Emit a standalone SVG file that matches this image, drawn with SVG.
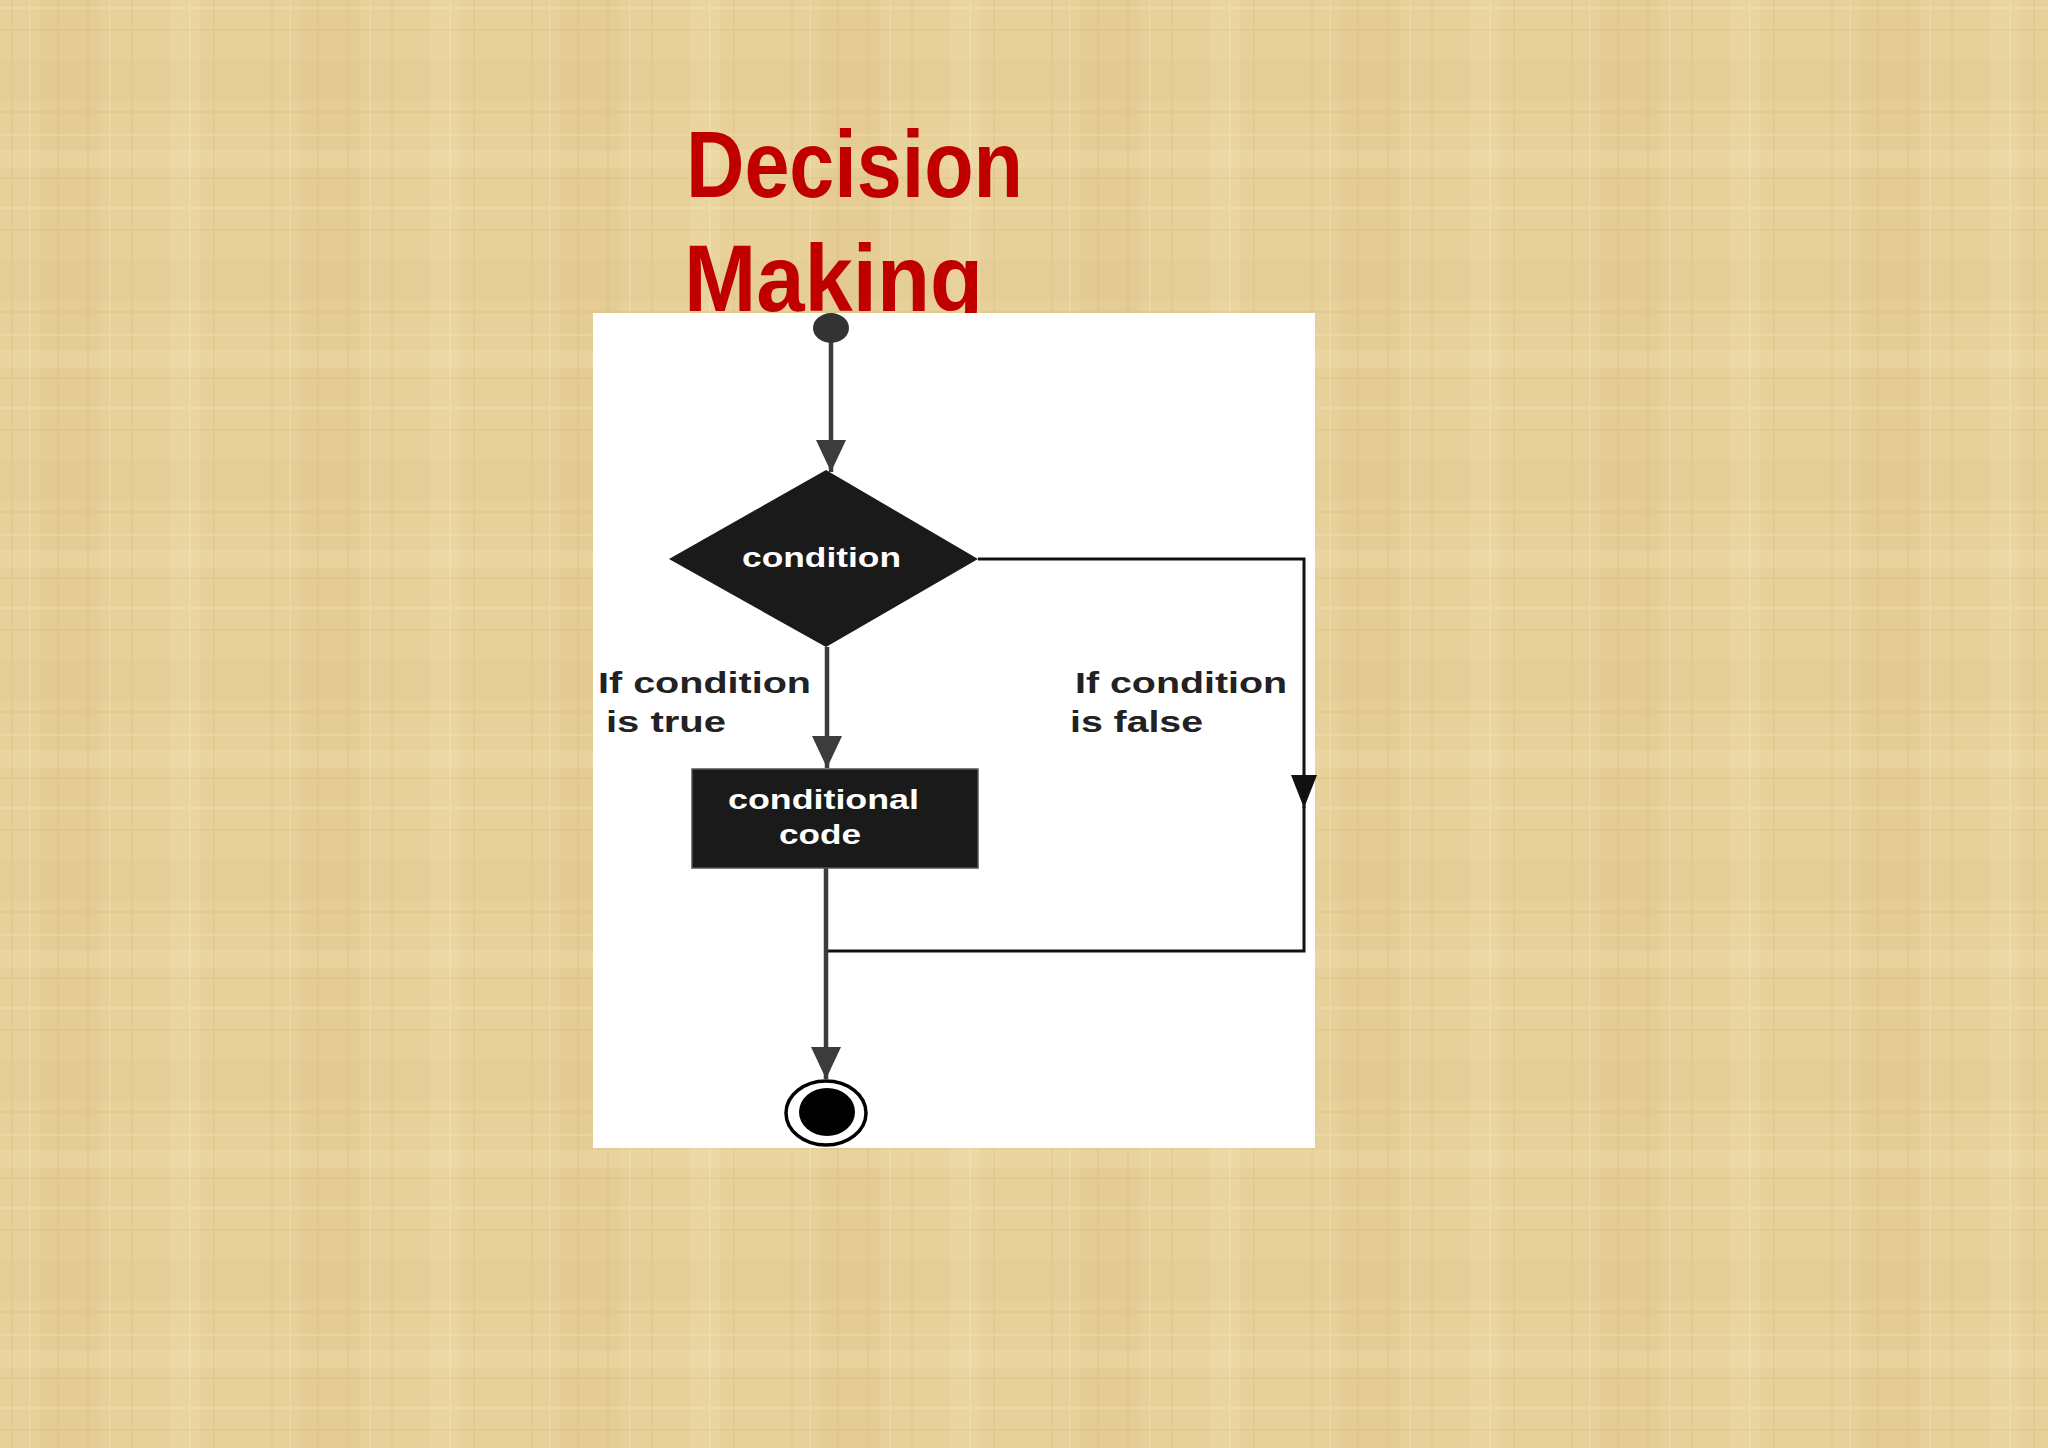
<svg xmlns="http://www.w3.org/2000/svg" width="2048" height="1448" viewBox="0 0 2048 1448">
<defs>
<style>
.title{font-family:"Liberation Sans",Arial,sans-serif;font-weight:bold;font-size:95px;fill:#C00000}
.wtxt{font-family:"Liberation Sans",Arial,sans-serif;font-weight:bold;font-size:27px;fill:#ffffff}
.lbl{font-family:"Liberation Sans",Arial,sans-serif;font-weight:bold;font-size:30px;fill:#222222}
.flow{fill:none;stroke:#3c3c3c;stroke-width:4.5}
.flowb{fill:none;stroke:#111111;stroke-width:3}
</style>
<pattern id="tex" width="260" height="200" patternUnits="userSpaceOnUse">
<rect width="260" height="200" fill="#E7D09A"/>
<rect x="40" y="0" width="60" height="200" fill="#DAC085" opacity="0.25"/>
<rect x="170" y="0" width="30" height="200" fill="#F2E2B4" opacity="0.3"/>
<rect x="0" y="60" width="260" height="40" fill="#DCC48C" opacity="0.2"/>
<rect x="0" y="150" width="260" height="18" fill="#F3E4B8" opacity="0.25"/>
<g stroke="#CDAE6C" stroke-width="1.5" opacity="0.25">
<line x1="12" y1="0" x2="12" y2="200"/>
<line x1="58" y1="0" x2="58" y2="200"/>
<line x1="88" y1="0" x2="88" y2="200"/>
<line x1="132" y1="0" x2="132" y2="200"/>
<line x1="214" y1="0" x2="214" y2="200"/>
<line x1="0" y1="30" x2="260" y2="30"/>
<line x1="0" y1="112" x2="260" y2="112"/>
<line x1="0" y1="178" x2="260" y2="178"/>
</g>
<g stroke="#F8ECC6" stroke-width="1.5" opacity="0.35">
<line x1="30" y1="0" x2="30" y2="200"/>
<line x1="110" y1="0" x2="110" y2="200"/>
<line x1="190" y1="0" x2="190" y2="200"/>
<line x1="0" y1="8" x2="260" y2="8"/>
<line x1="0" y1="135" x2="260" y2="135"/>
</g>
</pattern>
<marker id="ag" markerWidth="32" markerHeight="30" refX="32" refY="15" orient="auto" markerUnits="userSpaceOnUse">
<path d="M0,0 L32,15 L0,30 z" fill="#3c3c3c"/>
</marker>
<marker id="ab" markerWidth="33" markerHeight="26" refX="33" refY="13" orient="auto" markerUnits="userSpaceOnUse">
<path d="M0,0 L33,13 L0,26 z" fill="#111111"/>
</marker>
<clipPath id="boxclip"><rect x="593" y="313" width="722" height="835"/></clipPath>
</defs>

<rect width="2048" height="1448" fill="url(#tex)"/>

<g id="title">
<text class="title" x="686" y="197" textLength="337" lengthAdjust="spacingAndGlyphs">Decision</text>
<text class="title" x="684" y="311" textLength="299" lengthAdjust="spacingAndGlyphs">Making</text>
</g>

<rect id="panel" x="593" y="313" width="722" height="835" fill="#ffffff"/>

<g id="connectors">
<path class="flow" d="M831,340 L831,472" marker-end="url(#ag)"/>
<path class="flow" d="M827,647 L827,768" marker-end="url(#ag)"/>
<path class="flowb" d="M978,559 L1304,559 L1304,808" marker-end="url(#ab)"/>
<path class="flowb" d="M1304,806 L1304,951 L827,951"/>
<path class="flow" d="M826,868 L826,1079" marker-end="url(#ag)"/>
</g>

<g id="start" clip-path="url(#boxclip)">
<ellipse cx="831" cy="328" rx="18" ry="15" fill="#333333"/>
</g>

<g id="decision">
<polygon points="826,470 978,559 826,647 669,559" fill="#1a1a1a"/>
<text class="wtxt" x="742" y="567" textLength="159" lengthAdjust="spacingAndGlyphs">condition</text>
</g>

<g id="label-true">
<text class="lbl" x="598" y="693" textLength="213" lengthAdjust="spacingAndGlyphs">If condition</text>
<text class="lbl" x="606" y="732" textLength="120" lengthAdjust="spacingAndGlyphs">is true</text>
</g>

<g id="label-false">
<text class="lbl" x="1075" y="693" textLength="212" lengthAdjust="spacingAndGlyphs">If condition</text>
<text class="lbl" x="1070" y="732" textLength="133" lengthAdjust="spacingAndGlyphs">is false</text>
</g>

<g id="action">
<rect x="692" y="769" width="286" height="99" fill="#1a1a1a" stroke="#555555" stroke-width="1.5"/>
<text class="wtxt" x="728" y="809" textLength="191" lengthAdjust="spacingAndGlyphs">conditional</text>
<text class="wtxt" x="779" y="844" textLength="82" lengthAdjust="spacingAndGlyphs">code</text>
</g>

<g id="end">
<ellipse cx="826" cy="1113" rx="40" ry="32" fill="#ffffff" stroke="#000000" stroke-width="3.5"/>
<ellipse cx="827" cy="1112" rx="28" ry="24" fill="#000000"/>
</g>
</svg>
